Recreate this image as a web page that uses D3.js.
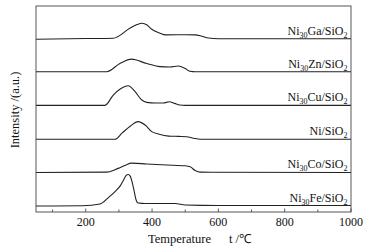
<!DOCTYPE html>
<html>
<head>
<meta charset="utf-8">
<script src="https://cdn.jsdelivr.net/npm/d3@7"></script>
<style>
  body { margin: 0; background: #fff; }
</style>
</head>
<body>
<div id="chart"></div>
<script>
// plot box
var margin = {top: 6, right: 22, bottom: 35, left: 36};
var width = 373 - margin.left - margin.right;
var height = 247 - margin.top - margin.bottom;
var serif = "'Liberation Serif', 'Times New Roman', serif";

// sample labels, bottom to top (element alloyed with Ni30)
var samples = ["Fe", "Co", "", "Cu", "Zn", "Ga"];
// baseline offset of each trace (a.u.)
var offsets = [0.18, 1.19, 2.19, 3.21, 4.22, 5.21];

// TPR traces: [temperature, intensity above own baseline]
var fe = [[50,0],[190,0.01],[243,0.06],[270,0.27],[290,0.45],[305,0.62],[315,0.8],[322,0.92],[328,0.95],
  [334,0.9],[340,0.72],[346,0.45],[352,0.18],[358,0.09],[380,0.075],[470,0.075],[500,0.03],[600,0.015],[1000,0.015]];
var co = [[50,0],[263,0.01],[290,0.09],[303,0.145],[320,0.22],[338,0.28],[384,0.255],[444,0.225],[500,0.2],
  [515,0.17],[530,0.06],[545,0.01],[580,0.005],[1000,0]];
var ni = [[50,0],[288,0],[310,0.19],[335,0.4],[358,0.53],[380,0.42],[399,0.23],[419,0.16],[450,0.095],
  [480,0.085],[504,0.075],[525,0.03],[545,0],[1000,0]];
var cu = [[50,0],[258,0],[283,0.31],[305,0.5],[328,0.59],[349,0.41],[369,0.16],[384,0.09],[410,0.07],
  [434,0.07],[452,0.11],[468,0.06],[484,0.01],[500,0],[1000,0]];
var zn = [[50,0],[263,0],[303,0.25],[338,0.38],[384,0.25],[424,0.155],[454,0.145],[479,0.175],[499,0.105],
  [514,0.015],[530,0],[1000,0]];
var ga = [[50,-0.01],[200,0.01],[283,0.02],[333,0.32],[355,0.43],[369,0.47],[385,0.42],[399,0.29],[424,0.17],
  [440,0.12],[500,0.125],[530,0.12],[550,0.08],[570,0.025],[600,0.005],[1000,0.005]];
var traces = [fe, co, ni, cu, zn, ga];

var xTicks = [200, 400, 600, 800, 1000];
var xMinor = [100, 300, 500, 700, 900];

var svg = d3.select("#chart").append("svg")
    .attr("width", 373)
    .attr("height", 247)
    .attr("font-family", serif);
var g = svg.append("g")
    .attr("transform", "translate(" + margin.left + "," + margin.top + ")");

var x = d3.scaleLinear().domain([50, 1000]).range([0, width]);
var y = d3.scaleLinear().domain([0, 6.2]).range([height, 0]);

// ticks point inward
g.selectAll(".minor")
  .data(xMinor)
  .enter().append("line")
    .attr("x1", d => x(d)).attr("x2", d => x(d))
    .attr("y1", height).attr("y2", height - 2.5)
    .style("stroke", "#333").style("stroke-width", 0.8);
g.selectAll(".major")
  .data(xTicks)
  .enter().append("line")
    .attr("x1", d => x(d)).attr("x2", d => x(d))
    .attr("y1", height).attr("y2", height - 3.5)
    .style("stroke", "#333").style("stroke-width", 0.8);
g.selectAll(".ticklabel")
  .data(xTicks)
  .enter().append("text")
    .attr("x", d => x(d))
    .attr("y", height + 14)
    .attr("font-family", serif)
    .style("text-anchor", "middle")
    .style("font-size", "12px")
    .style("fill", "#111")
    .text(d => d);

// traces
var line = d3.line()
    .curve(d3.curveMonotoneX);
traces.forEach(function(t, i) {
  line.x(d => x(d[0])).y(d => y(d[1] + offsets[i]));
  g.append("path")
    .datum(t)
    .attr("d", line)
    .style("fill", "none")
    .style("stroke", "#222")
    .style("stroke-width", 1.1);
});

// sample labels
samples.forEach(function(s, i) {
  var t = g.append("text")
    .attr("x", width - 3.5)
    .attr("y", y(offsets[i]) - 4)
    .attr("font-family", serif)
    .style("text-anchor", "end")
    .style("font-size", "12px")
    .style("fill", "#111");
  t.append("tspan").text("Ni");
  if (s) {
    t.append("tspan").attr("dy", 3).style("font-size", "8px").text("30");
    t.append("tspan").attr("dy", -3).text(s + "/SiO");
  } else {
    t.append("tspan").text("/SiO");
  }
  t.append("tspan").attr("dy", 3).style("font-size", "8px").text("2");
});

// frame
g.append("rect")
  .attr("width", width)
  .attr("height", height)
  .style("fill", "none")
  .style("stroke", "#444")
  .style("stroke-width", 0.9);

// axis titles
svg.append("text")
  .attr("x", 148)
  .attr("y", 243)
  .attr("font-family", serif)
  .style("font-size", "12.5px")
  .style("fill", "#111")
  .text("Temperature");
svg.append("text")
  .attr("x", 229)
  .attr("y", 243)
  .attr("font-family", serif)
  .style("font-size", "12.5px")
  .style("fill", "#111")
  .text("t /\u2103");
svg.append("text")
  .attr("transform", "translate(19,110) rotate(-90)")
  .attr("font-family", serif)
  .style("text-anchor", "middle")
  .style("font-size", "12.5px")
  .style("fill", "#111")
  .text("Intensity /(a.u.)");
</script>
</body>
</html>
